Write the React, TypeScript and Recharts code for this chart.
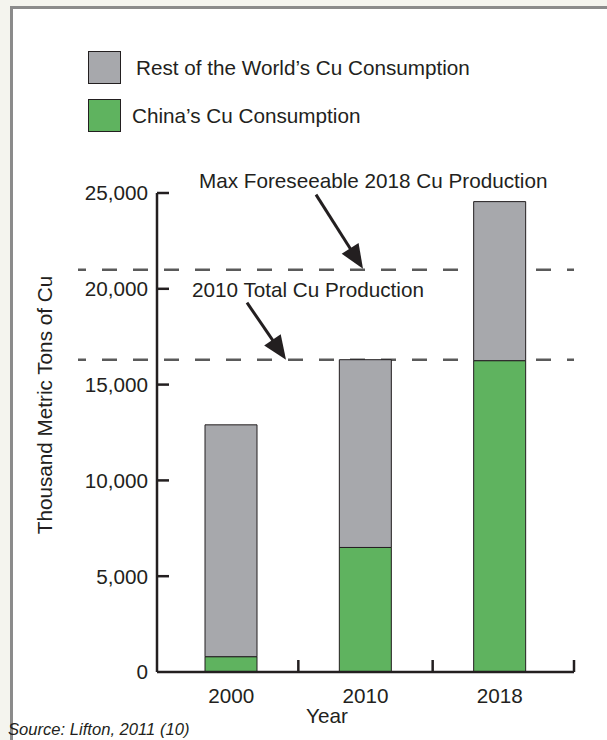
import { Bar, BarChart, Legend, ReferenceLine, XAxis, YAxis } from "recharts";

// values (thousand metric tons of Cu)
const YEARS = ["2000", "2010", "2018"];
const CHINA = [800, 6500, 16250];
const REST_OF_WORLD = [12100, 9800, 8300];
const Y_TICKS = [0, 5000, 10000, 15000, 20000, 25000];
const MAX_FORESEEABLE_2018 = 21000;
const TOTAL_PRODUCTION_2010 = 16300;

const data = YEARS.map((year, i) => ({ year, china: CHINA[i], rest: REST_OF_WORLD[i] }));

const INK = "#231f20";
const FONT = '"Liberation Sans", Arial, Helvetica, sans-serif';
const FS = 20.7;

function YTick({ x, y, payload }: any) {
  return (
    <g>
      {payload.value !== 0 && <line x1={x + 9} x2={x + 21} y1={y} y2={y} stroke={INK} strokeWidth={2.5} />}
      <text x={x} y={y} dy="0.36em" textAnchor="end" fontSize={FS} fill={INK} fontFamily={FONT}>
        {Number(payload.value).toLocaleString("en-US")}
      </text>
    </g>
  );
}

function XTick({ x, y, payload, index, visibleTicksCount }: any) {
  // tick marks sit on the band edges, pointing up
  const half = payload.offset ?? 67;
  const edge = x + half + (index === visibleTicksCount - 1 ? 7 : 0);
  return (
    <g>
      <line x1={edge} x2={edge} y1={y} y2={y - 12} stroke={INK} strokeWidth={2.5} />
      <text x={x} y={y + 31} textAnchor="middle" fontSize={FS} fill={INK} fontFamily={FONT}>
        {payload.value}
      </text>
    </g>
  );
}

function Arrow({ from, to }: { from: [number, number]; to: [number, number] }) {
  const dx = to[0] - from[0];
  const dy = to[1] - from[1];
  const len = Math.hypot(dx, dy);
  const ux = dx / len;
  const uy = dy / len;
  const bx = to[0] - ux * 24;
  const by = to[1] - uy * 24;
  const w = 10;
  return (
    <g>
      <line x1={from[0]} y1={from[1]} x2={bx + ux * 4} y2={by + uy * 4} stroke={INK} strokeWidth={3} />
      <polygon
        points={`${to[0]},${to[1]} ${bx - uy * w},${by + ux * w} ${bx + uy * w},${by - ux * w}`}
        fill={INK}
      />
    </g>
  );
}

function Threshold(props: any) {
  const { x1, y1, x2, note, noteX, noteDy, tail, tip } = props;
  return (
    <g>
      <line
        x1={x1 - 79}
        x2={x2}
        y1={y1}
        y2={y1}
        stroke="#5a5a5a"
        strokeWidth={2.5}
        strokeDasharray="15 16"
        strokeDashoffset={7}
      />
      <text x={noteX} y={y1 + noteDy} fontSize={FS} fill={INK} fontFamily={FONT}>
        {note}
      </text>
      <Arrow from={[tail[0], y1 + tail[1]]} to={[tip[0], y1 + tip[1]]} />
    </g>
  );
}

// own prop names so the axis label clone does not override them
function AxisTitle({ text, tx, ty, rotate }: { text: string; tx: number; ty: number; rotate?: boolean }) {
  return (
    <text
      x={tx}
      y={ty}
      textAnchor="middle"
      fontSize={FS}
      fill={INK}
      fontFamily={FONT}
      transform={rotate ? `rotate(-90, ${tx}, ${ty})` : undefined}
    >
      {text}
    </text>
  );
}

function LegendBox({ payload }: any) {
  const items = [...(payload ?? [])].reverse();
  return (
    <div style={{ display: "flex", flexDirection: "column", gap: 15 }}>
      {items.map((it: any, i: number) => (
        <div key={it.value} style={{ display: "flex", alignItems: "center", height: 33 }}>
          <span style={{ width: 31, height: 31, background: it.color, border: `1px solid ${INK}` }} />
          <span style={{ marginLeft: i === 0 ? 15 : 11, fontSize: FS, color: INK, fontFamily: FONT }}>{it.value}</span>
        </div>
      ))}
    </div>
  );
}

export default function App() {
  return (
    <div
      style={{
        position: "fixed",
        left: 0,
        top: 0,
        width: 607,
        height: 740,
        overflow: "hidden",
        background: "#f4f4ee",
        fontFamily: FONT,
      }}
    >
      <div
        style={{
          position: "absolute",
          left: 10,
          top: 6,
          width: 640,
          height: 800,
          border: "3px solid #8b8b8b",
          background: "#fff",
        }}
      />
      <div style={{ position: "absolute", left: 0, top: 0 }}>
        <BarChart width={607} height={740} data={data} margin={{ top: 193, right: 33, bottom: 0, left: 0 }} barSize={52}>
          <Legend
            layout="vertical"
            align="center"
            verticalAlign="middle"
            wrapperStyle={{ top: 51, left: 88, width: 460 }}
            content={<LegendBox />}
          />
          <ReferenceLine
            y={MAX_FORESEEABLE_2018}
            zIndex={0}
            shape={(p: any) => (
              <Threshold {...p} note="Max Foreseeable 2018 Cu Production" noteX={199} noteDy={-82} tail={[316, -75]} tip={[363, -1]} />
            )}
          />
          <ReferenceLine
            y={TOTAL_PRODUCTION_2010}
            zIndex={0}
            shape={(p: any) => (
              <Threshold {...p} note="2010 Total Cu Production" noteX={192} noteDy={-63} tail={[247, -57]} tip={[286, 0]} />
            )}
          />
          <XAxis
            dataKey="year"
            height={68}
            padding={{ left: 7, right: 7 }}
            axisLine={{ stroke: INK, strokeWidth: 2.5 }}
            tickLine={false}
            tickSize={0}
            tickMargin={0}
            tick={<XTick />}
            interval={0}
            label={<AxisTitle text="Year" tx={327} ty={723} />}
          />
          <YAxis
            width={157}
            domain={[0, 25000]}
            ticks={Y_TICKS}
            interval={0}
            axisLine={{ stroke: INK, strokeWidth: 2.5 }}
            tickLine={false}
            tickSize={0}
            tickMargin={9}
            tick={<YTick />}
            label={<AxisTitle text="Thousand Metric Tons of Cu" tx={52} ty={405} rotate />}
          />
          <Bar dataKey="china" name="China’s Cu Consumption" stackId="cu" fill="#5fb35f" stroke={INK} strokeWidth={1} isAnimationActive={false} />
          <Bar dataKey="rest" name="Rest of the World’s Cu Consumption" stackId="cu" fill="#a7a8ac" stroke={INK} strokeWidth={1} isAnimationActive={false} />
        </BarChart>
      </div>
      <div
        style={{
          position: "absolute",
          left: 8,
          top: 722,
          fontSize: 16.6,
          lineHeight: "16px",
          fontStyle: "italic",
          color: INK,
          fontFamily: FONT,
          whiteSpace: "nowrap",
        }}
      >
        Source: Lifton, 2011 (10)
      </div>
    </div>
  );
}
